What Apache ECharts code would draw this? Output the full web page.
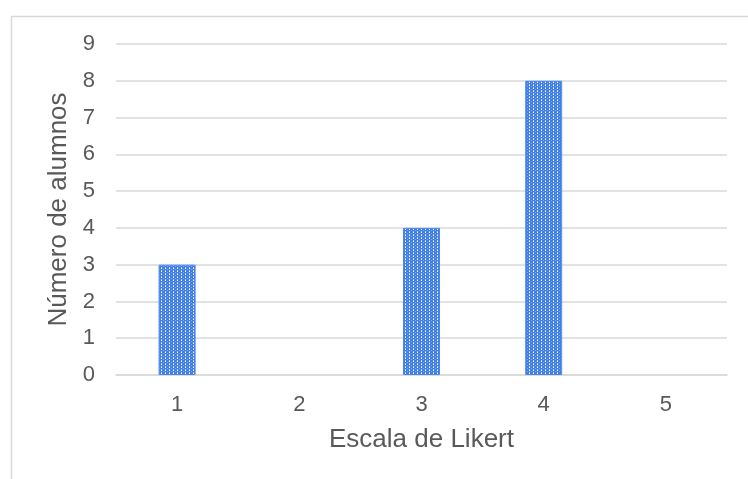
<!DOCTYPE html>
<html><head><meta charset="utf-8">
<script src="https://cdn.jsdelivr.net/npm/echarts@6/dist/echarts.min.js"></script>
<style>html,body{margin:0;padding:0;background:#fff}#c{width:748px;height:479px}</style>
</head><body><div id="c"></div>
<script>
const categories = ['1', '2', '3', '4', '5'];
const values = [3, 0, 4, 8, 0];
const yTicks = [0, 1, 2, 3, 4, 5, 6, 7, 8, 9];

function makePattern() {
  const c = document.createElement('canvas');
  c.width = 4; c.height = 3;
  const g = c.getContext('2d');
  g.fillStyle = '#3f7fe6';
  g.fillRect(0, 0, 4, 3);
  g.fillStyle = '#ffffff';
  g.fillRect(1, 1, 1, 1);
  g.fillStyle = '#b3cdf6';
  g.fillRect(1, 0, 1, 1);
  g.fillStyle = '#7ea8ef';
  g.fillRect(3, 2, 1, 1);
  return c;
}

const font = 'Arial, Liberation Sans, sans-serif';
const chart = echarts.init(document.getElementById('c'));
chart.setOption({
  animation: false,
  graphic: [{
    type: 'rect', left: 9, top: 14,
    shape: { x: 0, y: 0, width: 760, height: 480 },
    style: { fill: 'none', stroke: '#d9d9d9', lineWidth: 1.5 }
  }],
  grid: { left: 116, right: 21, top: 44, bottom: 104, containLabel: false },
  xAxis: {
    type: 'category', data: categories,
    name: 'Escala de Likert', nameLocation: 'middle', nameGap: 52,
    nameTextStyle: { color: '#595959', fontSize: 26, fontFamily: font },
    axisLine: { lineStyle: { color: '#d9d9d9', width: 1.5 } },
    axisTick: { show: false },
    axisLabel: { color: '#595959', fontSize: 22, margin: 19, fontFamily: font }
  },
  yAxis: {
    type: 'value', min: 0, max: 9, interval: 1,
    name: 'Número de alumnos', nameLocation: 'middle', nameGap: 40,
    nameTextStyle: { color: '#595959', fontSize: 26, fontFamily: font },
    axisLine: { show: false }, axisTick: { show: false },
    splitLine: { lineStyle: { color: '#d9d9d9', width: 1.5 } },
    axisLabel: { color: '#595959', fontSize: 22, margin: 21, fontFamily: font,
      formatter: v => yTicks.includes(v) ? String(v) : '' }
  },
  series: [{
    type: 'bar', barWidth: 37,
    data: values.map(v => v === 0 ? { value: v, itemStyle: { borderWidth: 0 } } : v),
    itemStyle: { color: { image: makePattern(), repeat: 'repeat' }, borderColor: '#4a88ee', borderWidth: 1 }
  }]
});
</script></body></html>
